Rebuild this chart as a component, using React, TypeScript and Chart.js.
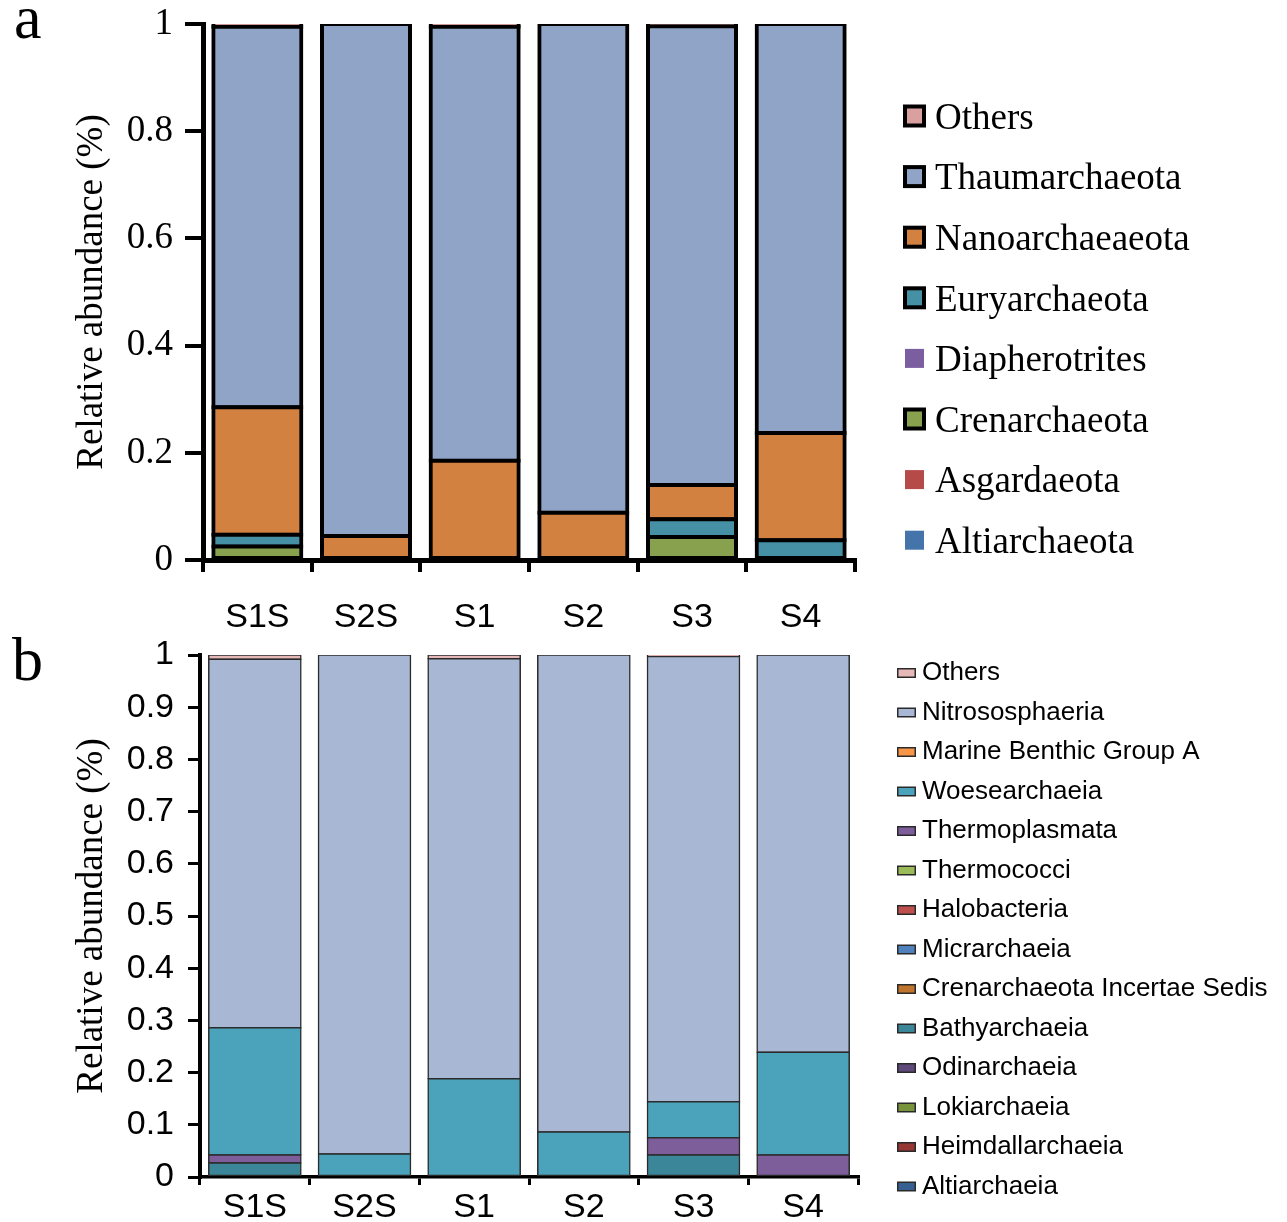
import React, { useEffect, useRef } from "react";
import { Chart, registerables } from "chart.js";

Chart.register(...registerables);

const SERIF = "'Liberation Serif', 'Times New Roman', serif";
const SANS = "'Liberation Sans', Arial, sans-serif";

// ---------- shared categories ----------
const samples = ["S1S", "S2S", "S1", "S2", "S3", "S4"];

// ---------- panel a: phylum level (stack order bottom -> top) ----------
const phylaA = [
  "Altiarchaeota",
  "Asgardaeota",
  "Crenarchaeota",
  "Diapherotrites",
  "Euryarchaeota",
  "Nanoarchaeaeota",
  "Thaumarchaeota",
  "Others",
];
const altiarchaeota = [0, 0, 0, 0, 0, 0];
const asgardaeota = [0, 0, 0, 0, 0, 0];
const crenarchaeota = [0.025, 0, 0, 0, 0.043, 0];
const diapherotrites = [0, 0, 0, 0, 0, 0];
const euryarchaeota = [0.022, 0, 0, 0, 0.033, 0.037];
const nanoarchaeaeota = [0.238, 0.045, 0.185, 0.088, 0.064, 0.2];
const thaumarchaeota = [0.71, 0.955, 0.81, 0.912, 0.856, 0.763];
const othersA = [0.005, 0, 0.005, 0, 0.004, 0];
const valuesA = [
  altiarchaeota,
  asgardaeota,
  crenarchaeota,
  diapherotrites,
  euryarchaeota,
  nanoarchaeaeota,
  thaumarchaeota,
  othersA,
];
const colorsA = [
  "#4474aa",
  "#b54a48",
  "#87a14e",
  "#7b5ea0",
  "#4590a5",
  "#d28140",
  "#90a4c7",
  "#daa0a0",
];
const yTicksA = [0, 0.2, 0.4, 0.6, 0.8, 1];

// ---------- panel b: class level (stack order bottom -> top) ----------
const classesB = [
  "Altiarchaeia",
  "Heimdallarchaeia",
  "Lokiarchaeia",
  "Odinarchaeia",
  "Bathyarchaeia",
  "Crenarchaeota Incertae Sedis",
  "Micrarchaeia",
  "Halobacteria",
  "Thermococci",
  "Thermoplasmata",
  "Woesearchaeia",
  "Marine Benthic Group A",
  "Nitrososphaeria",
  "Others",
];
const altiarchaeia = [0, 0, 0, 0, 0, 0];
const heimdallarchaeia = [0, 0, 0, 0, 0, 0];
const lokiarchaeia = [0, 0, 0, 0, 0, 0];
const odinarchaeia = [0, 0, 0, 0, 0, 0];
const bathyarchaeia = [0.027, 0, 0, 0, 0.042, 0];
const crenIncertaeSedis = [0, 0, 0, 0, 0, 0];
const micrarchaeia = [0, 0, 0, 0, 0, 0];
const halobacteria = [0, 0, 0, 0, 0, 0];
const thermococci = [0, 0, 0, 0, 0, 0];
const thermoplasmata = [0.015, 0, 0, 0, 0.033, 0.042];
const woesearchaeia = [0.244, 0.044, 0.188, 0.086, 0.069, 0.197];
const marineBenthicGroupA = [0, 0, 0, 0, 0, 0];
const nitrososphaeria = [0.706, 0.956, 0.805, 0.914, 0.853, 0.761];
const othersB = [0.008, 0, 0.007, 0, 0.003, 0];
const valuesB = [
  altiarchaeia,
  heimdallarchaeia,
  lokiarchaeia,
  odinarchaeia,
  bathyarchaeia,
  crenIncertaeSedis,
  micrarchaeia,
  halobacteria,
  thermococci,
  thermoplasmata,
  woesearchaeia,
  marineBenthicGroupA,
  nitrososphaeria,
  othersB,
];
const colorsB = [
  "#376092",
  "#953735",
  "#77933c",
  "#5f497a",
  "#3c8699",
  "#c0752e",
  "#4f81bd",
  "#c0504d",
  "#9bbb59",
  "#7d5e9b",
  "#4ba3bb",
  "#f79646",
  "#a8b8d4",
  "#e6b8b7",
];
const yTicksB = [0, 0.1, 0.2, 0.3, 0.4, 0.5, 0.6, 0.7, 0.8, 0.9, 1];

// ---------- side legend + panel letter plugin ----------
const sideLegend = {
  id: "sideLegend",
  afterDraw(chart: any, _args: any, opts: any) {
    const { ctx } = chart;
    const ds = chart.data.datasets;
    ctx.save();
    // panel letter
    ctx.font = `62px ${SERIF}`;
    ctx.fillStyle = "#000";
    ctx.textBaseline = "alphabetic";
    ctx.textAlign = "left";
    ctx.fillText(opts.letter, opts.letterX, opts.letterY);

    ctx.font = opts.font;
    ctx.textBaseline = "middle";
    for (let i = 0; i < ds.length; i++) {
      const d = ds[ds.length - 1 - i];
      const y = opts.top + i * opts.spacing;
      const sw = opts.swatchW;
      const sh = opts.swatchH;
      const x0 = opts.swatchX;
      const y0 = y + opts.swatchDy - sh / 2;
      if (opts.style === "a") {
        if (d.hasData) {
          ctx.fillStyle = "#000";
          ctx.fillRect(x0, y0, sw, sh);
          ctx.fillStyle = d.backgroundColor;
          ctx.fillRect(x0 + 4, y0 + 4, sw - 8, sh - 8);
        } else {
          ctx.fillStyle = d.backgroundColor;
          ctx.fillRect(x0 + 2, y0 + 2, sw - 4, sh - 4);
        }
      } else {
        ctx.fillStyle = "#2a2a2a";
        ctx.fillRect(x0, y0, sw, sh);
        ctx.fillStyle = d.backgroundColor;
        ctx.fillRect(x0 + 1.5, y0 + 1.5, sw - 3, sh - 3);
      }
      ctx.fillStyle = "#000";
      ctx.fillText(d.label, opts.textX, y);
    }
    ctx.restore();
  },
};

type PanelCfg = {
  names: string[];
  values: number[][];
  colors: string[];
  yTicks: number[];
  height: number;
  padding: { top: number; right: number; bottom: number; left: number };
  yWidth: number;
  xHeight: number;
  yTickFont: { family: string; size: number; lineHeight: number };
  yTickLen: number;
  yTickWidth: number;
  yTickPad: number;
  yBorder: number;
  xTickLen: number;
  xTickWidth: number;
  xTickPad: number;
  xBorder: number;
  titlePad: number;
  barBorder: number;
  barInflate: number;
  barBorderColor: string;
  barPct: number;
  legend: any;
};

function buildConfig(cfg: PanelCfg): any {
  const datasets = cfg.names.map((name, i) => {
    const vals = cfg.values[i];
    const hasData = vals.some((v) => v > 0);
    return {
      label: name,
      data: vals.map((v) => (v > 0 ? v : null)),
      backgroundColor: cfg.colors[i],
      borderColor: cfg.barBorderColor,
      borderWidth: cfg.barBorder,
      borderSkipped: false,
      inflateAmount: cfg.barInflate,
      barPercentage: cfg.barPct,
      categoryPercentage: 1,
      hasData,
    };
  });
  const tickSet = cfg.yTicks;
  return {
    type: "bar",
    data: { labels: samples, datasets },
    options: {
      responsive: false,
      animation: false,
      events: [],
      layout: { padding: cfg.padding },
      plugins: {
        legend: { display: false },
        tooltip: { enabled: false },
        sideLegend: cfg.legend,
      },
      scales: {
        x: {
          stacked: true,
          afterFit: (s: any) => {
            s.height = cfg.xHeight;
          },
          grid: {
            offset: true,
            drawOnChartArea: false,
            drawTicks: true,
            tickLength: cfg.xTickLen,
            tickWidth: cfg.xTickWidth,
            tickColor: "#000",
            lineWidth: cfg.xTickWidth,
            color: "#000",
          },
          border: { display: true, color: "#000", width: cfg.xBorder },
          ticks: {
            color: "#000",
            font: { family: SANS, size: 34 },
            padding: cfg.xTickPad,
            maxRotation: 0,
            autoSkip: false,
          },
        },
        y: {
          stacked: true,
          min: 0,
          max: 1,
          afterFit: (s: any) => {
            s.width = cfg.yWidth;
          },
          afterBuildTicks: (s: any) => {
            s.ticks = tickSet.map((v) => ({ value: v }));
          },
          grid: {
            drawOnChartArea: false,
            drawTicks: true,
            tickLength: cfg.yTickLen,
            tickWidth: cfg.yTickWidth,
            tickColor: "#000",
            lineWidth: cfg.yTickWidth,
            color: "#000",
          },
          border: { display: true, color: "#000", width: cfg.yBorder },
          ticks: {
            color: "#000",
            font: cfg.yTickFont,
            padding: cfg.yTickPad,
            callback: (v: any) => String(Math.round(Number(v) * 10) / 10),
          },
          title: {
            display: true,
            text: "Relative abundance (%)",
            color: "#000",
            font: { family: SERIF, size: 37 },
            padding: { top: cfg.titlePad, bottom: 0 },
          },
        },
      },
    },
    plugins: [sideLegend],
  };
}

function Panel({ cfg, top }: { cfg: PanelCfg; top: number }) {
  const ref = useRef<HTMLCanvasElement | null>(null);
  useEffect(() => {
    if (!ref.current) return;
    const chart = new Chart(ref.current, buildConfig(cfg));
    return () => chart.destroy();
  }, [cfg]);
  return (
    <canvas
      ref={ref}
      width={1287}
      height={cfg.height}
      style={{ position: "absolute", left: 0, top, width: 1287, height: cfg.height }}
    />
  );
}

const cfgA: PanelCfg = {
  names: phylaA,
  values: valuesA,
  colors: colorsA,
  yTicks: yTicksA,
  height: 640,
  padding: { top: 24, right: 432, bottom: 0, left: 0 },
  yWidth: 203,
  xHeight: 80,
  yTickFont: { family: SERIF, size: 37, lineHeight: 0.2 },
  yTickLen: 18,
  yTickWidth: 4,
  yTickPad: 12,
  yBorder: 5,
  xTickLen: 12,
  xTickWidth: 4,
  xTickPad: 25,
  xBorder: 5,
  titlePad: 70,
  barBorder: 4,
  barInflate: 2,
  barBorderColor: "#000",
  barPct: 0.81,
  legend: {
    style: "a",
    letter: "a",
    letterX: 14,
    letterY: 38,
    font: `37px ${SERIF}`,
    top: 119,
    spacing: 60.6,
    swatchX: 903,
    swatchW: 23,
    swatchH: 23,
    swatchDy: -3,
    textX: 935,
  },
};

const cfgB: PanelCfg = {
  names: classesB,
  values: valuesB,
  colors: colorsB,
  yTicks: yTicksB,
  height: 592,
  padding: { top: 25, right: 429, bottom: 0, left: 0 },
  yWidth: 200,
  xHeight: 45,
  yTickFont: { family: SANS, size: 34, lineHeight: 0.2 },
  yTickLen: 12,
  yTickWidth: 3,
  yTickPad: 14,
  yBorder: 4,
  xTickLen: 8,
  xTickWidth: 3,
  xTickPad: 2,
  xBorder: 3.5,
  titlePad: 70,
  barBorder: 1.5,
  barInflate: 0.75,
  barBorderColor: "#2a2a2a",
  barPct: 0.84,
  legend: {
    style: "b",
    letter: "b",
    letterX: 12,
    letterY: 50,
    font: `26px ${SANS}`,
    top: 43,
    spacing: 39.5,
    swatchX: 897,
    swatchW: 19,
    swatchH: 10,
    swatchDy: 0,
    textX: 922,
  },
};

export default function App() {
  return (
    <div
      style={{
        position: "absolute",
        left: 0,
        top: 0,
        width: 1287,
        height: 1222,
        background: "#fff",
        overflow: "hidden",
      }}
    >
      <Panel cfg={cfgA} top={0} />
      <Panel cfg={cfgB} top={630} />
    </div>
  );
}
